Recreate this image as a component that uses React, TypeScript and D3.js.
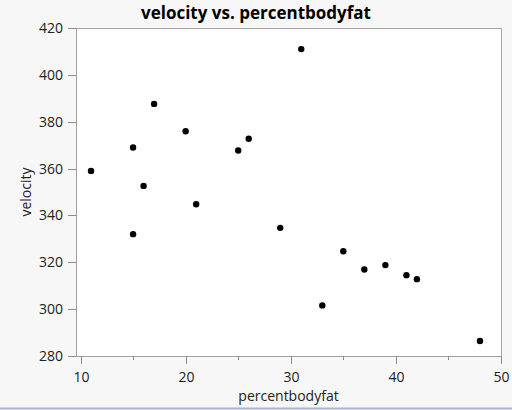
import { useEffect, useRef } from 'react';
import * as d3 from 'd3';

// percentbodyfat / velocity pairs
const percentBodyFat = [11, 15, 15, 16, 17, 20, 21, 25, 26, 29, 31, 33, 35, 37, 39, 41, 42, 48];
const velocity = [359, 369, 332, 352.6, 387.6, 375.9, 344.8, 367.7, 372.7, 334.7, 411, 301.6, 324.7, 316.9, 318.8, 314.5, 312.8, 286.4];

const xTicks = [10, 20, 30, 40, 50];
const xMinorTicks = [15, 25, 35, 45];
const yTicks = [280, 300, 320, 340, 360, 380, 400, 420];

const W = 512;
const H = 410;
const FONT = '"Open Sans", "Noto Sans", sans-serif';

export default function App() {
  const svgRef = useRef<SVGSVGElement | null>(null);

  useEffect(() => {
    if (!svgRef.current) return;
    const svg = d3.select(svgRef.current);
    svg.selectAll('*').remove();

    const left = 76, right = 501, top = 28, bottom = 356;

    const x = d3.scaleLinear().domain([9.57, 50]).range([left, right]);
    const y = d3.scaleLinear().domain([280, 420]).range([bottom, top]);

    // page + plot background
    svg.append('rect').attr('width', W).attr('height', H).attr('fill', '#f7f7f7');
    svg.append('rect')
      .attr('x', left).attr('y', top)
      .attr('width', right - left).attr('height', bottom - top)
      .attr('fill', '#ffffff');

    // frame: top and right in light gray, axes in darker gray
    svg.append('path')
      .attr('d', `M${left},${top + 0.5}H${right + 0.5}V${bottom}`)
      .attr('fill', 'none').attr('stroke', '#a6a6a6');
    svg.append('path')
      .attr('d', `M${left + 0.5},${top}V${bottom + 0.5}H${right + 0.5}`)
      .attr('fill', 'none').attr('stroke', '#a0a0a0');

    // y axis ticks + labels
    const gy = svg.append('g');
    yTicks.forEach((t) => {
      const py = Math.round(y(t)) + 0.5;
      gy.append('line').attr('x1', left - 8).attr('x2', left).attr('y1', py).attr('y2', py)
        .attr('stroke', '#8c8c8c');
      gy.append('text').attr('x', left - 13).attr('y', py).attr('dy', '0.35em')
        .attr('text-anchor', 'end').attr('font-size', 14).attr('fill', '#222')
        .style('font-family', FONT).text(t);
    });

    // x axis ticks + labels
    const gx = svg.append('g');
    xTicks.forEach((t) => {
      const px = Math.round(x(t)) + 0.5;
      gx.append('line').attr('x1', px).attr('x2', px).attr('y1', bottom).attr('y2', bottom + 8)
        .attr('stroke', '#8c8c8c');
      gx.append('text').attr('x', px).attr('y', bottom + 26)
        .attr('text-anchor', 'middle').attr('font-size', 14).attr('fill', '#222')
        .style('font-family', FONT).text(t);
    });
    xMinorTicks.forEach((t) => {
      const px = Math.round(x(t)) + 0.5;
      gx.append('line').attr('x1', px).attr('x2', px).attr('y1', bottom).attr('y2', bottom + 4)
        .attr('stroke', '#8c8c8c');
    });

    // points
    svg.append('g').selectAll('circle')
      .data(percentBodyFat.map((d, i) => [d, velocity[i]]))
      .join('circle')
      .attr('cx', (d) => x(d[0]))
      .attr('cy', (d) => y(d[1]))
      .attr('r', 3.2)
      .attr('fill', '#000');

    // titles
    svg.append('text').attr('x', W / 2).attr('y', 19)
      .attr('text-anchor', 'middle').attr('font-size', 17).attr('font-weight', 'bold')
      .attr('fill', '#000').style('font-family', FONT).text('velocity vs. percentbodyfat');
    svg.append('text').attr('x', (left + right) / 2).attr('y', 401)
      .attr('text-anchor', 'middle').attr('font-size', 14).attr('fill', '#222')
      .style('font-family', FONT).text('percentbodyfat');
    svg.append('text')
      .attr('transform', `translate(31,${(top + bottom) / 2}) rotate(-90)`)
      .attr('text-anchor', 'middle').attr('font-size', 14).attr('fill', '#222')
      .style('font-family', FONT).text('velocity');

    // window bottom edge
    svg.append('line').attr('x1', 0).attr('x2', W).attr('y1', 408.5).attr('y2', 408.5)
      .attr('stroke', '#a9b5d3').attr('stroke-width', 2);
  }, []);

  return (
    <svg
      ref={svgRef}
      width={W}
      height={H}
      style={{ position: 'absolute', left: 0, top: 0, display: 'block' }}
    />
  );
}
